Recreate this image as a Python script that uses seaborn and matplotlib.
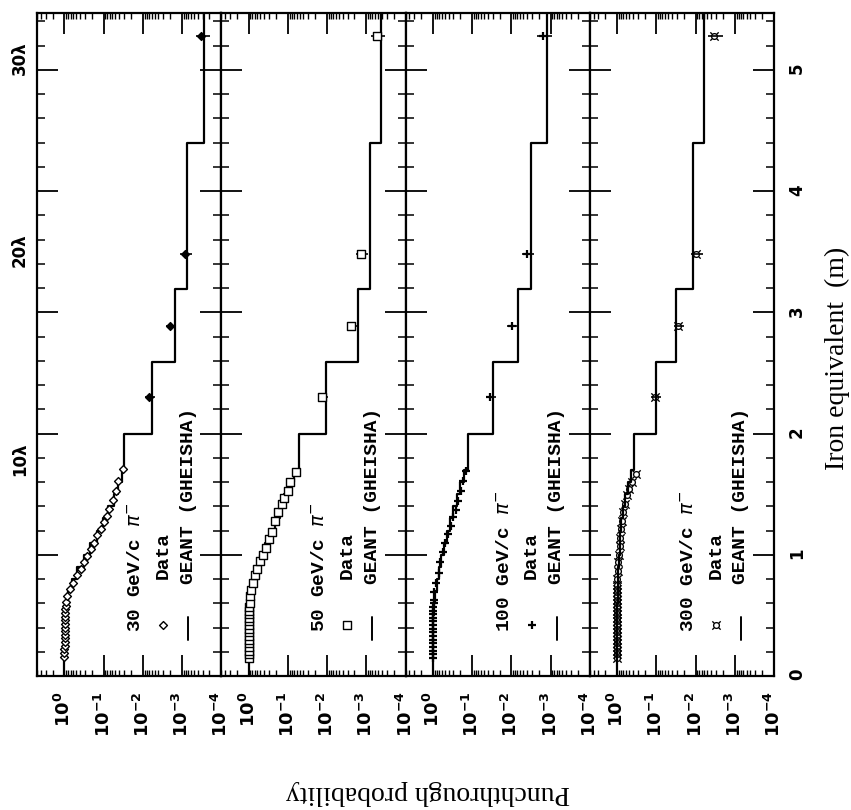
import numpy as np
import pandas as pd
import matplotlib
matplotlib.use("Agg")
import matplotlib.pyplot as plt
import matplotlib.transforms as mtransforms
from matplotlib.ticker import FixedLocator, FixedFormatter, LogLocator, NullFormatter, MultipleLocator
import seaborn as sns

sns.set_style("ticks")
plt.rcParams["font.family"] = ["DejaVu Sans"]
plt.rcParams["mathtext.fontset"] = "dejavusans"
for key in ["text.color", "axes.labelcolor", "xtick.color", "ytick.color", "axes.edgecolor"]:
    plt.rcParams[key] = "black"

# ---------------- data ----------------
energy_titles = ["30 GeV/c $\\pi^{-}$", "50 GeV/c $\\pi^{-}$",
                 "100 GeV/c $\\pi^{-}$", "300 GeV/c $\\pi^{-}$"]
prob_ticks = [1, 1e-1, 1e-2, 1e-3, 1e-4]
prob_tick_labels = [r"$\mathbf{10^{0}}$", r"$\mathbf{10^{-1}}$", r"$\mathbf{10^{-2}}$",
                    r"$\mathbf{10^{-3}}$", r"$\mathbf{10^{-4}}$"]
depth_ticks = [0, 1, 2, 3, 4, 5]
lambda_labels = ["10λ", "20λ", "30λ"]
lambda_depths = [1.79, 3.51, 5.10]

depth_30 = [0.16, 0.19, 0.22, 0.25, 0.28, 0.31, 0.34, 0.37, 0.40, 0.43, 0.46, 0.49, 0.52,
            0.55, 0.58, 0.61, 0.66, 0.72, 0.77, 0.83, 0.88, 0.94, 0.99, 1.05, 1.10, 1.16,
            1.21, 1.27, 1.32, 1.38, 1.45, 1.53, 1.61, 1.71]
prob_30 = [1.00, 1.00, 1.00, 0.99, 0.99, 0.99, 0.98, 0.98, 0.97, 0.97, 0.96, 0.96, 0.95,
           0.94, 0.93, 0.91, 0.85, 0.74, 0.59, 0.47, 0.38, 0.31, 0.26, 0.21, 0.174, 0.145,
           0.117, 0.098, 0.083, 0.071, 0.059, 0.048, 0.042, 0.033]

depth_50 = [0.15, 0.18, 0.21, 0.24, 0.27, 0.30, 0.33, 0.36, 0.39, 0.42, 0.45, 0.48, 0.51,
            0.54, 0.57, 0.60, 0.66, 0.71, 0.77, 0.83, 0.88, 0.95, 1.00, 1.06, 1.13, 1.19,
            1.28, 1.35, 1.42, 1.47, 1.53, 1.60, 1.68]
prob_50 = [1.00, 1.00, 1.00, 1.00, 0.99, 0.99, 0.99, 0.99, 0.98, 0.98, 0.98, 0.97, 0.97,
           0.96, 0.96, 0.95, 0.93, 0.87, 0.78, 0.69, 0.63, 0.52, 0.43, 0.37, 0.30, 0.25,
           0.21, 0.174, 0.145, 0.123, 0.100, 0.087, 0.062]

depth_100 = [0.15, 0.18, 0.21, 0.24, 0.27, 0.30, 0.33, 0.36, 0.39, 0.42, 0.45, 0.48, 0.51,
             0.54, 0.57, 0.60, 0.63, 0.69, 0.77, 0.85, 0.94, 1.02, 1.10, 1.17, 1.24, 1.31,
             1.37, 1.44, 1.53, 1.61, 1.69]
prob_100 = [1.00, 1.00, 1.00, 1.00, 1.00, 0.99, 0.99, 0.99, 0.99, 0.98, 0.98, 0.98, 0.98,
            0.97, 0.97, 0.96, 0.95, 0.93, 0.83, 0.72, 0.65, 0.56, 0.48, 0.42, 0.355, 0.31,
            0.26, 0.23, 0.195, 0.17, 0.145]

depth_300 = [0.15, 0.18, 0.21, 0.24, 0.27, 0.30, 0.33, 0.36, 0.39, 0.42, 0.45, 0.48, 0.51,
             0.54, 0.57, 0.60, 0.63, 0.66, 0.69, 0.72, 0.75, 0.80, 0.87, 0.94, 1.00, 1.07,
             1.14, 1.21, 1.28, 1.35, 1.42, 1.49, 1.54, 1.60, 1.67]
prob_300 = [1.00, 1.00, 1.00, 1.00, 1.00, 1.00, 1.00, 1.00, 1.00, 1.00, 1.00, 1.00, 1.00,
            1.00, 1.00, 1.00, 1.00, 1.00, 1.00, 1.00, 1.00, 1.00, 0.98, 0.93, 0.89, 0.85,
            0.83, 0.81, 0.76, 0.71, 0.65, 0.575, 0.50, 0.43, 0.34]

far_depth = [2.30, 2.885, 3.48, 5.28]
far_30 = [0.0068, 0.0020, 0.00085, 0.00032]
far_50 = [0.0135, 0.0024, 0.00138, 0.00054]
far_100 = [0.035, 0.0098, 0.0040, 0.00155]
far_300 = [0.107, 0.028, 0.0098, 0.0034]
far_rel_err = [0.30, 0.30, 0.35, 0.40]

geant_edges = [0.0, 0.1, 0.2, 0.3, 0.4, 0.5, 0.6, 0.7, 0.8, 0.9, 1.0, 1.1, 1.2, 1.3,
               1.4, 1.5, 1.6, 1.7, 2.0, 2.59, 3.19, 4.40, 5.47]
geant_30 = [1.0, 1.0, 0.99, 0.98, 0.955, 0.93, 0.83, 0.66, 0.47, 0.32, 0.22, 0.15, 0.105,
            0.076, 0.056, 0.043, 0.035, 0.0295, 0.0060, 0.0015, 0.00075, 0.00028]
geant_50 = [1.0, 1.0, 1.0, 0.99, 0.98, 0.955, 0.91, 0.79, 0.66, 0.50, 0.38, 0.28, 0.21,
            0.16, 0.123, 0.091, 0.068, 0.051, 0.0107, 0.00166, 0.00081, 0.00042]
geant_100 = [1.0, 1.0, 1.0, 0.99, 0.98, 0.955, 0.91, 0.81, 0.71, 0.62, 0.52, 0.44, 0.36,
             0.30, 0.25, 0.204, 0.162, 0.126, 0.030, 0.0068, 0.0032, 0.0012]
geant_300 = [1.0, 1.0, 1.0, 1.0, 1.0, 0.99, 0.98, 0.965, 0.945, 0.91, 0.87, 0.83, 0.78,
             0.71, 0.63, 0.54, 0.44, 0.37, 0.102, 0.0316, 0.0115, 0.0060]

depths = [depth_30, depth_50, depth_100, depth_300]
probs = [prob_30, prob_50, prob_100, prob_300]
fars = [far_30, far_50, far_100, far_300]
geants = [geant_30, geant_50, geant_100, geant_300]

# ---------------- styles ----------------
marker_styles = [
    dict(marker="D", s=16, facecolor="white", edgecolor="black", linewidth=1.0),
    dict(marker="s", s=26, facecolor="white", edgecolor="black", linewidth=1.0),
    dict(marker="+", s=36, color="black", linewidth=1.6),
    dict(marker="$¤$", s=45, color="black", linewidth=0),
]
far_face = ["black", "white", None, None]

W, H = 851, 810
fig = plt.figure(figsize=(W / 100, H / 100), dpi=100)
axes = fig.subplots(1, 4, sharey=True)
fig.subplots_adjust(left=37 / W, right=774 / W, bottom=1 - 676 / H, top=1 - 13 / H, wspace=0)

mono = "Liberation Mono"
serif = "Liberation Serif"

for i, ax in enumerate(axes):
    # GEANT histogram drawn as vertical steps (depth on y)
    xs, ys = [], []
    for k, v in enumerate(geants[i]):
        xs += [v, v]
        ys += [geant_edges[k], geant_edges[k + 1]]
    step_df = pd.DataFrame({"prob": xs, "depth": ys})
    sns.lineplot(data=step_df, x="prob", y="depth", sort=False, estimator=None,
                 color="black", linewidth=1.6, ax=ax)

    # data points
    data_df = pd.DataFrame({"prob": probs[i], "depth": depths[i]})
    sns.scatterplot(data=data_df, x="prob", y="depth", ax=ax, zorder=3, **marker_styles[i])

    far_df = pd.DataFrame({"prob": fars[i], "depth": far_depth})
    err = np.array(fars[i]) * np.array(far_rel_err)
    ax.errorbar(far_df["prob"], far_df["depth"], xerr=err, fmt="none",
                ecolor="black", elinewidth=1.2, zorder=3)
    fs = dict(marker_styles[i])
    if far_face[i] is not None:
        fs["facecolor"] = far_face[i]
    sns.scatterplot(data=far_df, x="prob", y="depth", ax=ax, zorder=4, **fs)

    # axes setup
    ax.set_xscale("log")
    ax.set_xlim(10 ** 0.7, 1e-4)
    ax.set_ylim(0, 5.47)
    ax.xaxis.set_major_locator(FixedLocator(prob_ticks))
    ax.xaxis.set_major_formatter(FixedFormatter(prob_tick_labels))
    ax.xaxis.set_minor_locator(LogLocator(base=10, subs=np.arange(2, 10) * 1.0, numticks=30))
    ax.xaxis.set_minor_formatter(NullFormatter())
    ax.yaxis.set_major_locator(FixedLocator(depth_ticks))
    ax.yaxis.set_minor_locator(MultipleLocator(0.2))
    ax.tick_params(axis="x", which="both", direction="in", top=True, bottom=True)
    ax.tick_params(axis="x", which="major", length=15, width=1.3, pad=11,
                   labelsize=13, labelrotation=90)
    ax.tick_params(axis="x", which="minor", length=4.5, width=1.0)
    ax.tick_params(axis="y", which="both", direction="in", left=True, right=True,
                   labelleft=False)
    ax.tick_params(axis="y", which="major", length=15, width=1.3)
    ax.tick_params(axis="y", which="minor", length=6, width=1.1)
    for lab in ax.get_xticklabels():
        lab.set_fontweight("bold")
    for sp in ax.spines.values():
        sp.set_linewidth(1.6)
        sp.set_color("black")
    ax.set_xlabel("")
    ax.set_ylabel("")

    # legend block (rotated text)
    tr = mtransforms.blended_transform_factory(ax.transAxes, ax.transData)
    ax.text(0.535, 0.36, energy_titles[i], transform=tr, rotation=90, rotation_mode="anchor",
            ha="left", va="center", fontsize=14, family=mono, fontweight="bold")
    ax.text(0.685, 0.80, "Data", transform=tr, rotation=90, rotation_mode="anchor",
            ha="left", va="center", fontsize=14, family=mono, fontweight="bold")
    ax.text(0.82, 0.76, "GEANT (GHEISHA)", transform=tr, rotation=90, rotation_mode="anchor",
            ha="left", va="center", fontsize=14, family=mono, fontweight="bold")
    ms = dict(marker_styles[i])
    ax.scatter([0.685], [0.42], transform=tr, clip_on=False, zorder=5, **ms)
    ax.plot([0.82, 0.82], [0.30, 0.49], transform=tr, color="black", linewidth=1.4)

# right-hand depth labels on last panel
axes[-1].tick_params(axis="y", which="major", labelright=True, labelsize=12,
                     labelrotation=90, pad=10)
for lab in axes[-1].get_yticklabels():
    lab.set_fontweight("bold")

# interaction-length labels on the left
trl = mtransforms.blended_transform_factory(fig.transFigure, axes[0].transData)
for lab, d in zip(lambda_labels, lambda_depths):
    axes[0].text(20 / W, d, lab, transform=trl, rotation=90, ha="center", va="center",
                 fontsize=12, fontweight="bold", clip_on=False)

fig.text(428 / W, 1 - 792 / H, "Punchthrough probability", rotation=180,
         ha="center", va="center", fontsize=20, family=serif)
fig.text(837 / W, 1 - 358 / H, "Iron equivalent  (m)", rotation=90,
         ha="center", va="center", fontsize=20, family=serif)

fig.savefig("out.png", dpi=100)
